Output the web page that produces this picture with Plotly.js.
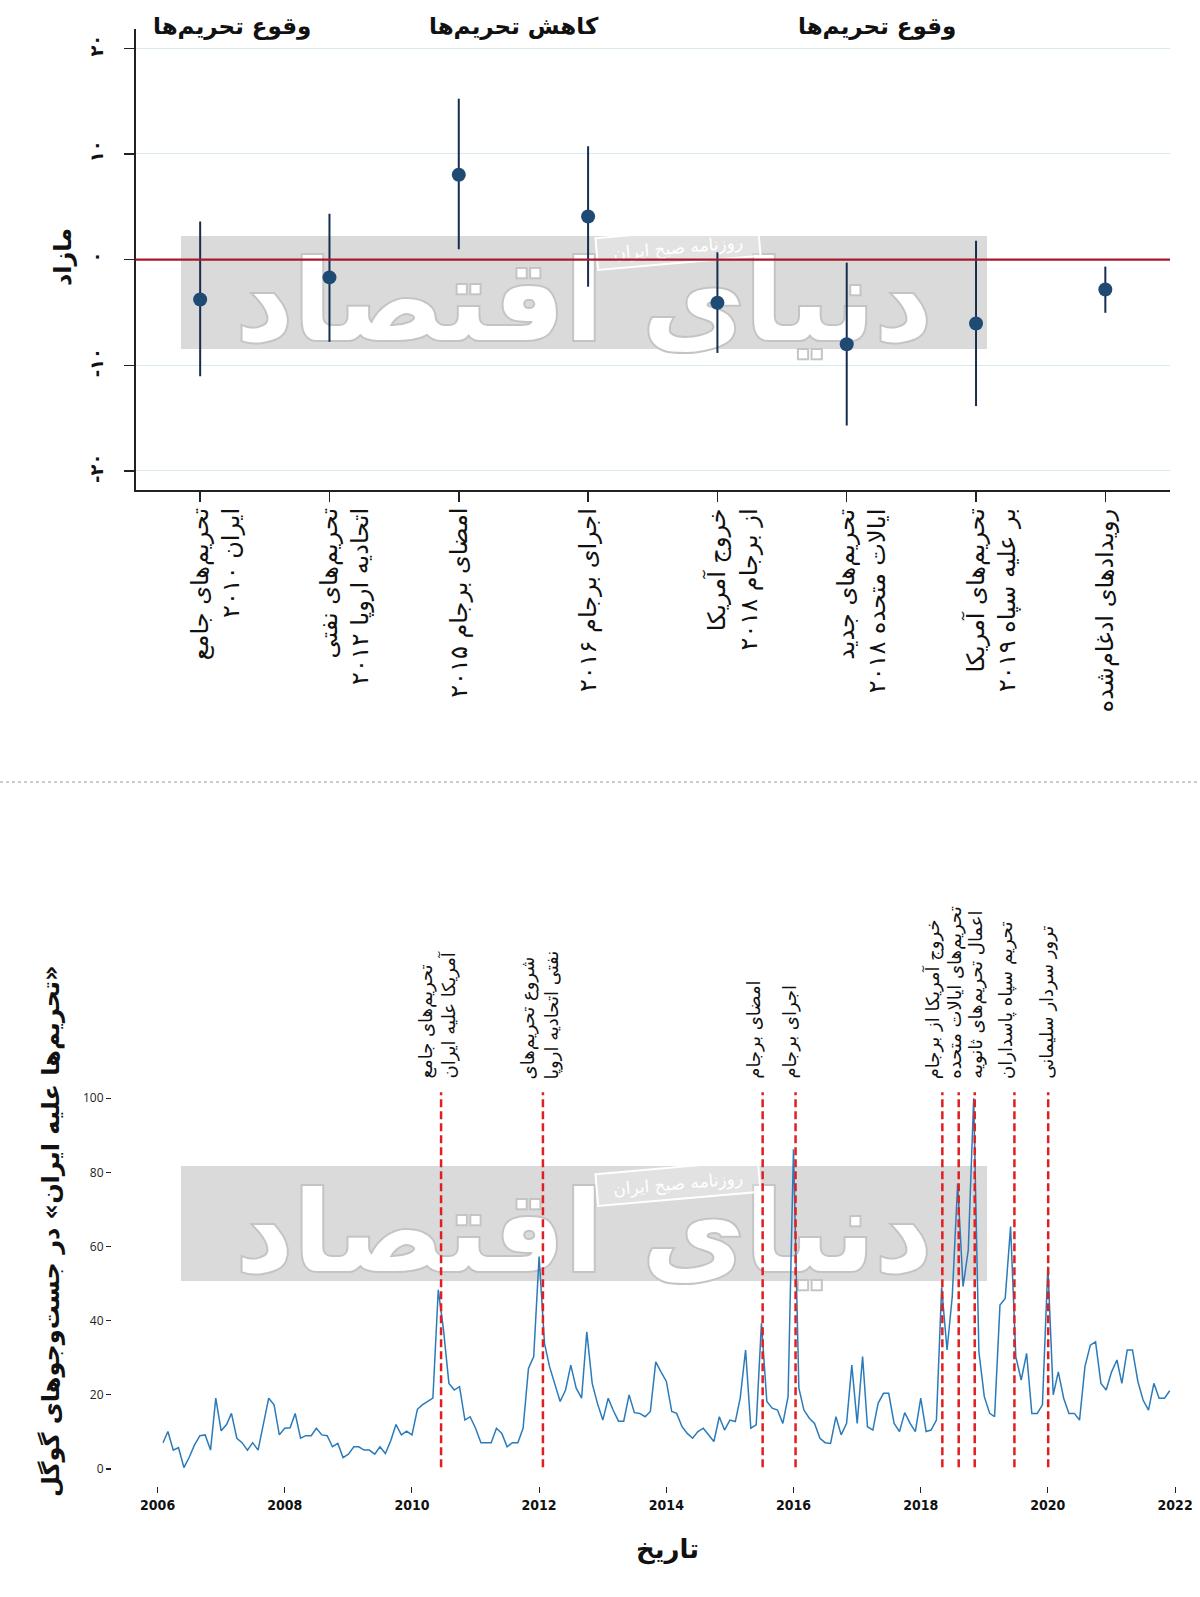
<!DOCTYPE html>
<html>
<head>
<meta charset="utf-8">
<script src="https://cdn.plot.ly/plotly-3.0.1.min.js"></script>
<style>
html, body { margin: 0; padding: 0; background: #ffffff; }
#chart { width: 1200px; height: 1597px; }
</style>
</head>
<body>
<div id="chart"></div>
<script>
// ---------------- DATA ----------------
// Top panel: event-study estimates (مازاد) with confidence intervals
const eventCategories = [
  "تحریم\u200cهای جامع<br>ایران ۲۰۱۰",
  "تحریم\u200cهای نفتی<br>اتحادیه اروپا ۲۰۱۲",
  "امضای برجام ۲۰۱۵",
  "اجرای برجام ۲۰۱۶",
  "خروج آمریکا<br>از برجام ۲۰۱۸",
  "تحریم\u200cهای جدید<br>ایالات متحده ۲۰۱۸",
  "تحریم\u200cهای آمریکا<br>بر علیه سپاه ۲۰۱۹",
  "رویدادهای ادغام\u200cشده"
];
const effectEstimates = [-3.77, -1.68, 8.04, 4.08, -4.08, -8.0, -6.04, -2.82];
const ciUpper = [3.61, 4.34, 15.22, 10.73, 0.70, -0.28, 1.80, -0.66];
const ciLower = [-11.04, -7.78, 0.98, -2.56, -8.83, -15.7, -13.86, -5.03];
const topTickValues = [-20, -10, 0, 10, 20];
const topTickLabels = ["-۲۰", "-۱۰", "۰", "۱۰", "۲۰"];
const periodLabels = ["وقوع تحریم\u200cها", "کاهش تحریم\u200cها", "وقوع تحریم\u200cها"];
const topYTitle = "مازاد";

// Bottom panel: monthly Google search interest, Feb 2006 - Dec 2021
const searchStartYear = 2006;
const searchStartMonth = 2;
const searchInterest = [
  7.1, 10.1, 5.1, 5.8, 0.4, 3.1, 6.5, 9.0, 9.2, 5.1, 19.1, 10.3, 12.0, 15.0, 8.3, 7.1, 5.1, 7.1, 5.1, 12.1,
  19.1, 17.3, 9.2, 11.0, 11.1, 15.0, 8.3, 9.0, 9.0, 11.0, 9.2, 9.0, 6.0, 6.9, 3.1, 4.0, 6.0, 6.0, 5.1, 5.1,
  4.0, 6.0, 4.2, 7.6, 12.0, 9.2, 10.2, 9.2, 16.1, 17.3, 18.3,
  19.1, 48.3, 37.5, 23.1, 21.3, 22.2, 13.2, 14.1, 11.0, 7.1, 7.1, 7.1, 11.0, 9.6, 6.0, 7.1, 7.1, 11.0, 27.1,
  30.3, 57.3, 33.9, 27.6, 23.1, 18.2, 21.3, 28.0, 21.8, 19.1, 37.0, 23.1, 17.7, 13.2, 19.1, 15.9, 12.9, 12.9,
  20.0, 15.2, 15.0, 14.1, 15.5, 28.9, 26.2, 23.6, 15.5, 15.0, 11.4, 9.6,
  8.3, 10.1, 11.0, 9.2, 7.4, 14.1, 10.5, 13.2, 12.8, 19.1, 32.1, 11.0, 11.9, 39.3, 18.2, 16.4, 15.9, 12.3,
  19.5, 86.2, 21.8, 15.9, 13.7, 12.3, 8.3, 7.1, 6.9, 14.1, 9.2, 12.3, 28.0, 12.3, 30.3, 11.4, 10.5, 17.7,
  20.4, 20.4, 12.3, 10.1, 15.2, 12.3, 10.1, 19.1, 10.1, 10.5, 13.2,
  49.0, 32.1, 46.5, 77.0, 49.2, 59.1, 100, 31.6, 19.5, 15.0, 14.1, 44.2, 46.0, 65.4, 30.3, 24.0, 31.2, 15.0,
  15.0, 17.3, 54.6, 20.0, 26.2, 19.1, 15.0, 15.0, 13.2, 27.6, 33.4, 34.3, 23.1, 21.3, 26.2, 29.4, 23.1, 32.1,
  32.1, 23.6, 18.6, 15.9, 23.1, 19.1, 19.1, 21.1
];
const eventDates = ["2010-06-17", "2012-01-23", "2015-07-08", "2016-01-13", "2018-05-05",
                    "2018-08-07", "2018-11-07", "2019-06-23", "2020-01-03"];
const eventLabels = [
  "تحریم\u200cهای جامع<br>آمریکا علیه ایران",
  "شروع تحریم\u200cهای<br>نفتی اتحادیه اروپا",
  "امضای برجام",
  "اجرای برجام",
  "خروج آمریکا از برجام",
  "تحریم\u200cهای ایالات متحده",
  "اعمال تحریم\u200cهای ثانویه",
  "تحریم سپاه پاسداران",
  "ترور سردار سلیمانی"
];
const bottomYTitle = "\u200F«تحریم\u200cها علیه ایران» در جست\u200cوجوهای گوگل\u200F";
const bottomXTitle = "تاریخ";
const watermarkLogo = "دنیای اقتصاد";
const watermarkTag = "روزنامه صبح ایران";

// ---------------- BUILD ----------------
const W = 1200, H = 1597;
const px = v => v / W;
const py = v => 1 - v / H;
const FA = "DejaVu Sans, Noto Sans, sans-serif";

const catPos = eventCategories.map((_, i) => i + 1);
const searchDates = searchInterest.map((_, i) => {
  const m0 = searchStartYear * 12 + (searchStartMonth - 1) + i;
  const y = Math.floor(m0 / 12), m = (m0 % 12) + 1;
  return y + "-" + String(m).padStart(2, "0") + "-01";
});

const traces = [
  {
    type: "scatter", mode: "markers", xaxis: "x", yaxis: "y",
    x: catPos, y: effectEstimates,
    marker: { size: 14, color: "#1f4a74" },
    error_y: {
      type: "data", symmetric: false,
      array: effectEstimates.map((v, i) => ciUpper[i] - v),
      arrayminus: effectEstimates.map((v, i) => v - ciLower[i]),
      color: "#172d4f", thickness: 2, width: 0
    },
    hoverinfo: "skip"
  },
  {
    type: "scatter", mode: "lines", xaxis: "x2", yaxis: "y2",
    x: searchDates, y: searchInterest,
    line: { color: "#2b7bba", width: 1.5 },
    hoverinfo: "skip"
  }
];

function rotRectPath(cx, cy, w, h, deg) {
  const a = deg * Math.PI / 180;
  const pts = [[-w/2, -h/2], [w/2, -h/2], [w/2, h/2], [-w/2, h/2]].map(([dx, dy]) => {
    const X = cx + dx * Math.cos(a) - dy * Math.sin(a);
    const Y = cy + dx * Math.sin(a) + dy * Math.cos(a);
    return px(X).toFixed(5) + " " + py(Y).toFixed(5);
  });
  return "M " + pts.join(" L ") + " Z";
}

const shapes = [];
// watermark panels
[[236, 349], [1166, 1281]].forEach(([t, b]) => {
  shapes.push({
    type: "rect", xref: "paper", yref: "paper", layer: "below",
    x0: px(181), x1: px(987), y0: py(b), y1: py(t),
    fillcolor: "#dadada", line: { width: 0 },
    label: { text: watermarkLogo, textposition: "middle center",
             font: { family: FA, size: 112, color: "#ffffff", weight: "bold" } }
  });
});
[247, 1183].forEach(cy => {
  shapes.push({
    type: "path", xref: "paper", yref: "paper", layer: "below",
    path: rotRectPath(678, cy, 163, 32, -5),
    fillcolor: "rgba(255,255,255,0.22)", line: { color: "#ffffff", width: 2 },
    label: { text: watermarkTag, textposition: "middle center", textangle: -5,
             font: { family: FA, size: 17, color: "#ffffff" } }
  });
});
// zero line
shapes.push({
  type: "line", xref: "paper", yref: "y", x0: px(135.5), x1: px(1170), y0: 0, y1: 0,
  line: { color: "#a8192b", width: 2.2 }, layer: "above"
});
// event lines
eventDates.forEach(d => {
  shapes.push({
    type: "line", xref: "x2", yref: "y2", x0: d, x1: d, y0: 0.5, y1: 101.6,
    line: { color: "#e02020", width: 2.5, dash: "8px,4px" }, layer: "above"
  });
});
// separator
shapes.push({
  type: "line", xref: "paper", yref: "paper", x0: 0, x1: 1, y0: py(782), y1: py(782),
  line: { color: "#9a9a9a", width: 1, dash: "dot" }, layer: "above"
});

const annotations = [];
eventCategories.forEach((txt, i) => {
  const nLines = txt.split("<br>").length;
  annotations.push({
    x: catPos[i], xref: "x", y: py(506), yref: "paper",
    xanchor: "center", yanchor: "top", textangle: -90, align: "right",
    xshift: (nLines - 1) * 15,
    text: txt, showarrow: false,
    font: { family: FA, size: 24, color: "#111111" }
  });
});
[[232, periodLabels[0]], [514, periodLabels[1]], [877, periodLabels[2]]].forEach(([x, t]) => {
  annotations.push({
    x: px(x), xref: "paper", y: py(26), yref: "paper",
    xanchor: "center", yanchor: "middle", text: t, showarrow: false,
    font: { family: FA, size: 23, color: "#111111", weight: "bold" }
  });
});
annotations.push({
  x: px(63), xref: "paper", y: py(257), yref: "paper", xanchor: "center", yanchor: "middle",
  textangle: -90, text: topYTitle, showarrow: false,
  font: { family: FA, size: 24, color: "#111111", weight: "bold" }
});
annotations.push({
  x: px(51), xref: "paper", y: py(1231), yref: "paper", xanchor: "center", yanchor: "middle",
  textangle: -90, text: bottomYTitle, showarrow: false,
  font: { family: FA, size: 24, color: "#111111", weight: "bold" }
});
annotations.push({
  x: px(667), xref: "paper", y: py(1549), yref: "paper", xanchor: "center", yanchor: "middle",
  text: bottomXTitle, showarrow: false,
  font: { family: FA, size: 26, color: "#111111", weight: "bold" }
});
const eventLabelShift = [-4, -3, -9, -6, -10, -4, 1, -9, -2];
eventLabels.forEach((txt, i) => {
  annotations.push({
    x: eventDates[i], xref: "x2", y: py(1081), yref: "paper",
    xanchor: "center", yanchor: "bottom", textangle: -90, align: "left",
    xshift: eventLabelShift[i],
    text: txt, showarrow: false,
    font: { family: FA, size: 18, color: "#111111" }
  });
});

const layout = {
  width: W, height: H,
  margin: { l: 0, r: 0, t: 0, b: 0 },
  paper_bgcolor: "#ffffff", plot_bgcolor: "rgba(0,0,0,0)",
  showlegend: false,
  font: { family: FA, color: "#111111" },
  xaxis: {
    domain: [px(135.5), px(1170)], anchor: "y",
    range: [0.5, eventCategories.length + 0.5], tickvals: catPos, showticklabels: false,
    ticks: "outside", ticklen: 10, tickwidth: 1.5, tickcolor: "#222222",
    showline: true, linecolor: "#222222", linewidth: 2,
    showgrid: false, zeroline: false, fixedrange: true
  },
  yaxis: {
    domain: [py(490), py(29.3)], anchor: "x",
    range: [-21.8, 21.8], tickvals: topTickValues, ticktext: topTickLabels, tickangle: -90,
    ticks: "outside", ticklen: 10, tickwidth: 1.5, tickcolor: "#222222", ticklabelstandoff: 14,
    showline: true, linecolor: "#222222", linewidth: 1.5,
    showgrid: true, gridcolor: "#d8eaf0", gridwidth: 1, zeroline: false,
    tickfont: { family: FA, size: 18, color: "#111111", weight: "bold" }, fixedrange: true
  },
  xaxis2: {
    domain: [px(112), px(1180)], anchor: "y2", type: "date",
    range: ["2005-04-14", "2022-01-29"], tick0: "2006-01-01", dtick: "M24", tickformat: "%Y",
    ticks: "outside", ticklen: 6, tickwidth: 1, tickcolor: "#222222",
    showline: false, showgrid: false, zeroline: false,
    tickfont: { family: "DejaVu Sans Condensed, DejaVu Sans, sans-serif", size: 14, color: "#111111", weight: "bold" },
    fixedrange: true
  },
  yaxis2: {
    domain: [py(1486), py(1090)], anchor: "x2",
    range: [-4.58, 102.2], tick0: 0, dtick: 20,
    ticks: "outside", ticklen: 5, tickwidth: 1.2, tickcolor: "#222222",
    showline: false, showgrid: false, zeroline: false,
    tickfont: { family: "Open Sans, sans-serif", size: 12, color: "#222222" }, fixedrange: true
  },
  shapes: shapes,
  annotations: annotations
};

Plotly.newPlot("chart", traces, layout, { displayModeBar: false, staticPlot: true }).then(() => {
  document.querySelectorAll("text").forEach(t => {
    if (t.textContent === watermarkLogo) {
      t.style.stroke = "#c4c4c4";
      t.style.strokeWidth = "4px";
      t.style.paintOrder = "stroke";
    }
  });
});
</script>
</body>
</html>
